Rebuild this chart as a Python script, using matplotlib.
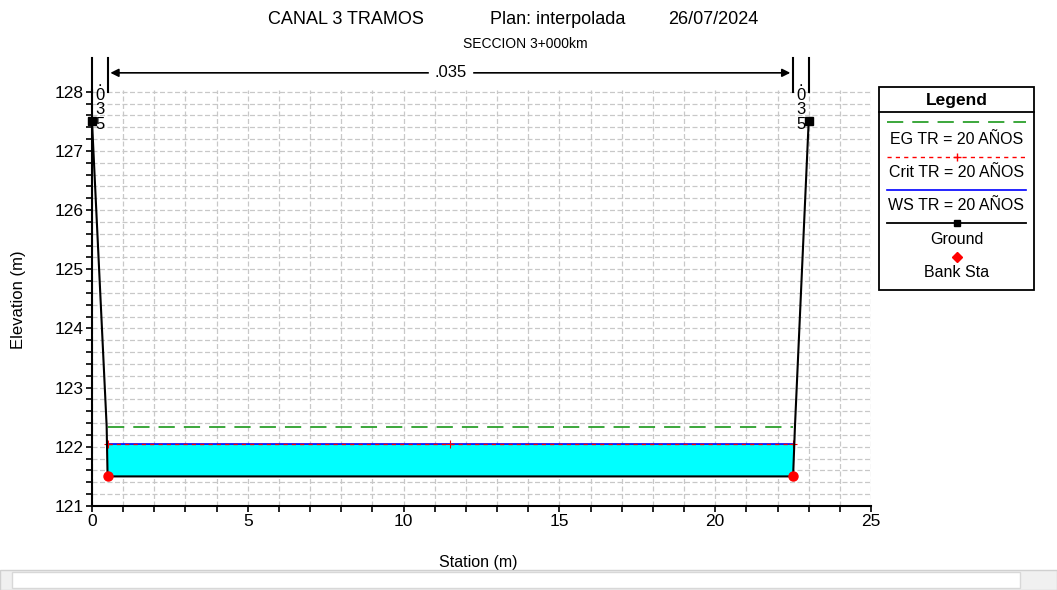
import numpy as np
import matplotlib.pyplot as plt
from matplotlib.patches import Rectangle

plt.rcParams['font.family'] = ['Liberation Sans', 'DejaVu Sans']

# cross section data
ground_sta = [0.0, 0.47, 0.5, 22.5, 22.56, 23.0]
ground_elev = [127.5, 122.35, 121.5, 121.5, 122.35, 127.5]
bank_sta = [0.5, 22.5]
bank_elev = [121.5, 121.5]
ws_elev = 122.05
crit_elev = 122.05
eg_elev = 122.33
crit_mark_sta = [0.5, 11.5, 22.5]
n_value = '.035'
n_breaks = [0.0, 0.5, 22.5, 23.0]

title_parts = ['CANAL 3 TRAMOS', 'Plan: interpolada', '26/07/2024']
subtitle = 'SECCION 3+000km'
labels = ['EG TR = 20 AÑOS', 'Crit TR = 20 AÑOS', 'WS TR = 20 AÑOS', 'Ground', 'Bank Sta']

fig = plt.figure(figsize=(10.57, 5.9), dpi=100)
ax = fig.add_axes([92/1057, 84/590, 779/1057, 416/590])

# water fill between ground and WS inside the banks
xs = np.linspace(bank_sta[0], bank_sta[1], 500)
gi = np.interp(xs, ground_sta, ground_elev)
ax.fill_between(xs, gi, ws_elev, where=gi <= ws_elev, color='#00FFFF', zorder=2, lw=0)

ax.plot(bank_sta, [eg_elev, eg_elev], color='#2ca02c', ls=(0, (9, 5)), lw=1.3, zorder=3)
ax.plot(bank_sta, [ws_elev, ws_elev], color='#0000FF', lw=1.2, zorder=3)
ax.plot(bank_sta, [crit_elev, crit_elev], color='#FF0000', ls=(0, (3, 3)), lw=1.0, zorder=4)
ax.plot(crit_mark_sta, [crit_elev] * 3, ls='none', marker='+', color='#FF0000', ms=6, mew=0.8, zorder=4)
ax.plot(ground_sta, ground_elev, color='black', lw=1.5, zorder=5)
ax.plot([ground_sta[0], ground_sta[-1]], [ground_elev[0], ground_elev[-1]], ls='none',
        marker='s', color='black', ms=6, zorder=6, clip_on=False)
ax.plot(bank_sta, bank_elev, ls='none', marker='o', color='#FF0000', ms=6.5, zorder=6)

ax.set_xlim(0, 25)
ax.set_ylim(121, 128.03)
ax.set_xticks(np.arange(0, 26, 5))
ax.set_xticks(np.arange(0, 26, 1), minor=True)
ax.set_yticks(np.arange(121, 129, 1))
ax.set_yticks(np.arange(121, 128.01, 0.2), minor=True)
ax.grid(True, which='both', color='#c8c8c8', ls=(0, (4, 2)), lw=0.9)
ax.set_axisbelow(True)
for s in ['top', 'right']:
    ax.spines[s].set_visible(False)
ax.spines['left'].set_linewidth(1.5)
ax.spines['bottom'].set_linewidth(1.5)
ax.tick_params(which='both', direction='out', labelsize=12.5, width=1.2, length=4, pad=2)
ax.set_xlabel('Station (m)', fontsize=11.5)
ax.set_ylabel('Elevation (m)', fontsize=12)
ax.xaxis.set_label_coords((478 - 92) / 779, (506 - 555) / 416)
ax.yaxis.set_label_coords((26 - 92) / 779, (506 - 300) / 416)

# Manning's n annotation above the plot
for x in n_breaks:
    ax.plot([x, x], [128.0, 128.57], color='black', lw=1.5, clip_on=False, zorder=7)
ax.annotate('', xy=(n_breaks[1], 128.32), xytext=(n_breaks[2], 128.32),
            arrowprops=dict(arrowstyle='<|-|>', color='black', lw=1.2, mutation_scale=12),
            annotation_clip=False)
ax.text((n_breaks[1] + n_breaks[2]) / 2, 128.32, n_value, ha='center', va='center', fontsize=12,
        backgroundcolor='white', clip_on=False, zorder=8)
for x in [(n_breaks[0] + n_breaks[1]) / 2, (n_breaks[2] + n_breaks[3]) / 2]:
    ax.text(x, 128.30, '.\n0\n3\n5', ha='center', va='top', fontsize=12, linespacing=0.93,
            clip_on=False, zorder=8)

for txt, px in zip(title_parts, [268, 490, 668]):
    fig.text(px / 1057, 1 - 20/590, txt, ha='left', va='center', fontsize=13)
fig.text(525/1057, 1 - 44/590, subtitle, ha='center', va='center', fontsize=10)

# legend box
lx0, lx1, ly0, ly1 = 879/1057, 1034/1057, 1 - 290/590, 1 - 87/590
fig.patches.append(Rectangle((lx0, ly0), lx1 - lx0, ly1 - ly0, transform=fig.transFigure,
                             fill=False, ec='black', lw=1.3))
fig.add_artist(plt.Line2D([lx0, lx1], [1 - 112/590] * 2, color='black', lw=1.3))
fig.text((lx0 + lx1) / 2, 1 - 100/590, 'Legend', ha='center', va='center', fontsize=12.5, weight='bold')
xl = [lx0 + 8/1057, lx1 - 8/1057]
xm = (lx0 + lx1) / 2
fig.add_artist(plt.Line2D(xl, [1 - 122/590] * 2, color='#2ca02c', ls=(0, (9, 5)), lw=1.3))
fig.add_artist(plt.Line2D(xl, [1 - 157/590] * 2, color='#FF0000', ls=(0, (3, 3)), lw=1.0))
fig.add_artist(plt.Line2D([xm], [1 - 157/590], color='#FF0000', marker='+', ms=6, ls='none'))
fig.add_artist(plt.Line2D(xl, [1 - 190/590] * 2, color='#0000FF', lw=1.2))
fig.add_artist(plt.Line2D(xl, [1 - 223/590] * 2, color='black', lw=1.3))
fig.add_artist(plt.Line2D([xm], [1 - 223/590], color='black', marker='s', ms=5, ls='none'))
fig.add_artist(plt.Line2D([xm], [1 - 257/590], color='#FF0000', marker='D', ms=5, ls='none'))
for lab, yy in zip(labels, [140, 173, 206, 240, 273]):
    fig.text(xm, 1 - yy/590, lab, ha='center', va='center', fontsize=11.5)

# scrollbar strip at the bottom
fig.patches.append(Rectangle((0, 0), 1, 20/590, transform=fig.transFigure, fc='#f0f0f0', ec='#d0d0d0'))
fig.patches.append(Rectangle((12/1057, 2/590), 1008/1057, 16/590, transform=fig.transFigure,
                             fc='white', ec='#d8d8d8'))

fig.savefig('out.png', dpi=100)
